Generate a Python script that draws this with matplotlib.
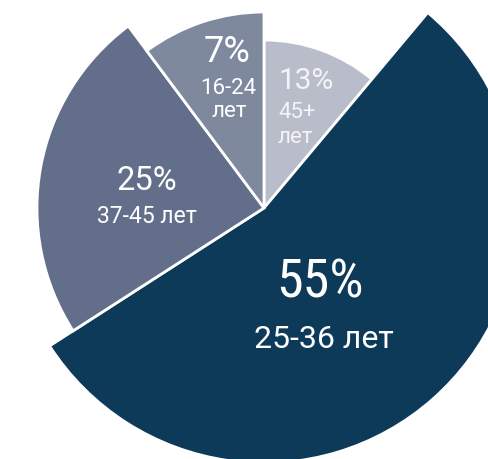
import matplotlib
matplotlib.use("Agg")
import matplotlib.pyplot as plt
from matplotlib import font_manager

# ---- data ----
groups = ["45+ лет", "25-36 лет", "37-45 лет", "16-24 лет"]
percent_labels = ["13%", "55%", "25%", "7%"]
# angular share of each slice as drawn in the picture (degrees / 3.6)
angle_shares = [11.1, 54.8, 23.9, 10.2]

# ---- style ----
colors = ["#b8bdc9", "#0e3a59", "#636f8a", "#7f899e"]
radii = [168, 255, 227, 196]   # pixel radii of each slice
W, H = 488, 459
cx, cy = 264, H - 208

names = {f.name for f in font_manager.fontManager.ttflist}
cond_fam, cond_stretch = "Roboto", "normal"
for cand in ["Roboto Condensed", "Liberation Sans Narrow"]:
    if cand in names:
        cond_fam = cand
        break
else:
    if any(f.name == "Roboto" and str(f.stretch) in ("condensed", "semi-condensed", "75", "87")
           for f in font_manager.fontManager.ttflist):
        cond_stretch = "condensed"
plt.rcParams["font.family"] = ["Roboto", "DejaVu Sans"]

fig = plt.figure(figsize=(W / 100, H / 100), dpi=100)
ax = fig.add_axes([0, 0, 1, 1])
ax.set_xlim(0, W)
ax.set_ylim(0, H)
ax.set_aspect("equal")
ax.axis("off")

wedges, _ = ax.pie(angle_shares, startangle=90, counterclock=False,
                   center=(cx, cy), radius=max(radii), colors=colors,
                   wedgeprops=dict(edgecolor="white", linewidth=2))
for w, r in zip(wedges, radii):
    w.set_radius(r)
ax.set_xlim(0, W)
ax.set_ylim(0, H)

def lab(i):
    return groups[i].split(" ")

# 13% slice (left aligned)
ax.text(279, 370, percent_labels[0], fontsize=21.5, color="#f4f4f7", ha="left", va="baseline")
ax.text(278, 341, lab(0)[0], fontsize=16, color="#f4f4f7", ha="left", va="baseline")
ax.text(278, 316, lab(0)[1], fontsize=16, color="#f4f4f7", ha="left", va="baseline")
# 55% slice
ax.text(320, 162, percent_labels[1], fontsize=39, color="white", ha="center", va="baseline",
        family=[cond_fam, "DejaVu Sans"], fontstretch=cond_stretch)
ax.text(324, 111, groups[1], fontsize=23, color="white", ha="center", va="baseline")
# 25% slice
ax.text(147, 269, percent_labels[2], fontsize=23.5, color="white", ha="center", va="baseline")
ax.text(147, 236, groups[2], fontsize=16.5, color="white", ha="center", va="baseline")
# 7% slice
ax.text(227, 397, percent_labels[3], fontsize=26, color="white", ha="center", va="baseline")
ax.text(228, 365, lab(3)[0], fontsize=16, color="white", ha="center", va="baseline")
ax.text(229, 342, lab(3)[1], fontsize=16, color="white", ha="center", va="baseline")

fig.savefig("out.png", dpi=100)
